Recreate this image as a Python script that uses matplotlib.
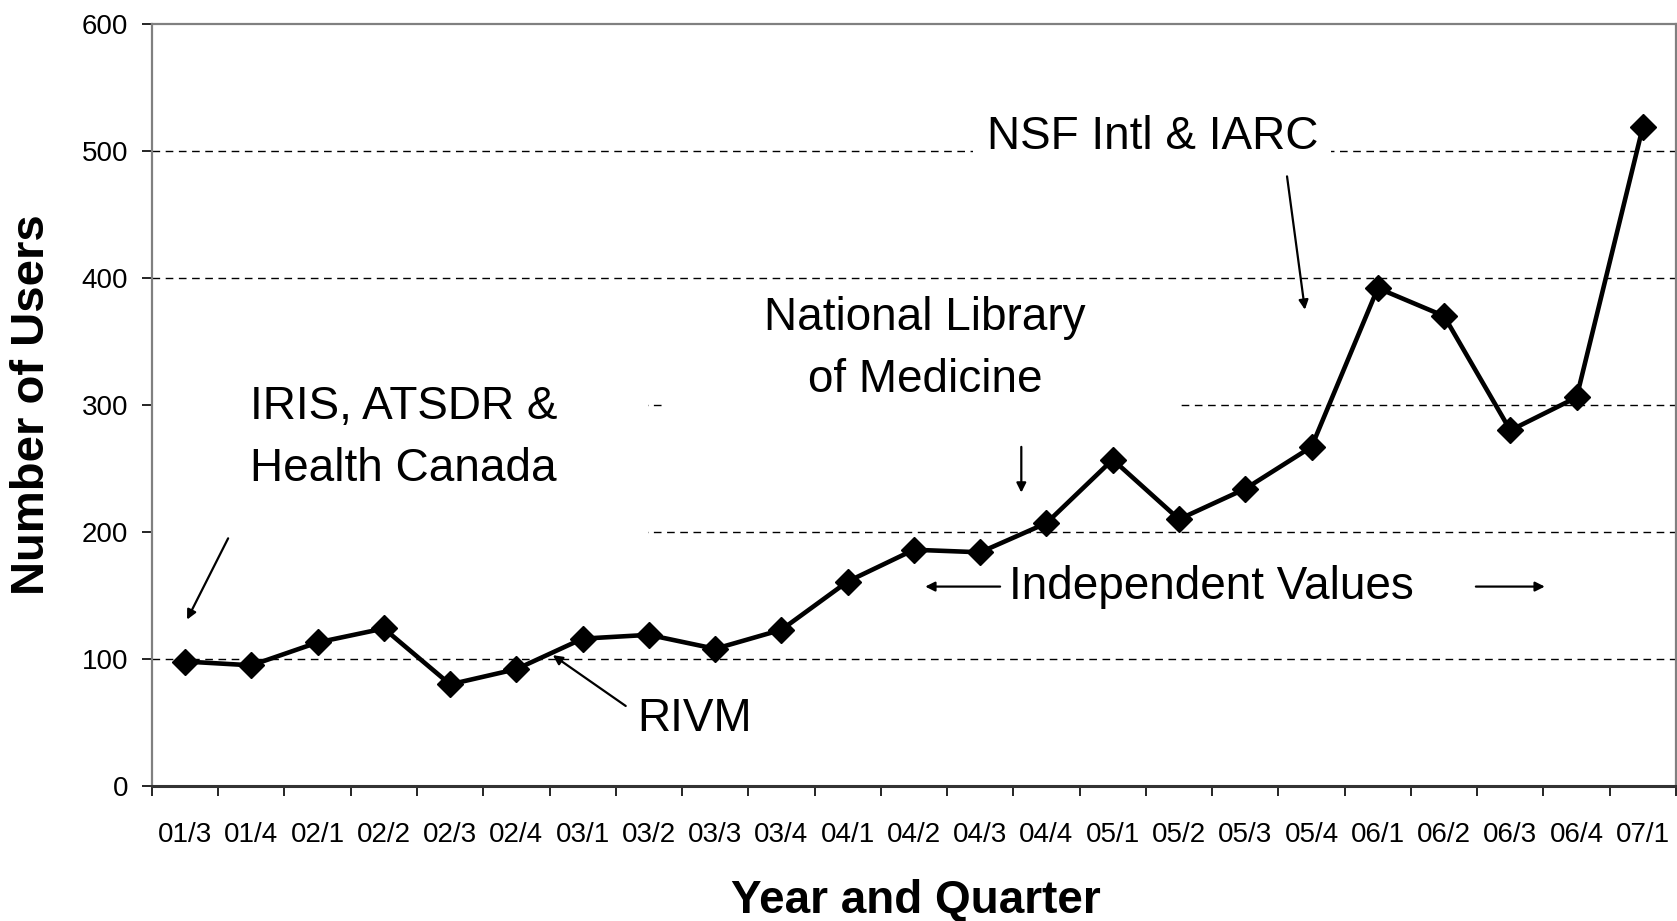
import numpy as np
import matplotlib.pyplot as plt
from matplotlib.patches import Rectangle

plt.rcParams['font.family'] = ['Liberation Sans', 'DejaVu Sans']

#quarters and user counts
quarters = ['01/3', '01/4', '02/1', '02/2', '02/3', '02/4', '03/1', '03/2',
            '03/3', '03/4', '04/1', '04/2', '04/3', '04/4', '05/1', '05/2',
            '05/3', '05/4', '06/1', '06/2', '06/3', '06/4', '07/1']
users = [98, 95, 113, 124, 80, 92, 116, 119, 108, 123, 161, 186,
         184, 207, 257, 210, 234, 267, 392, 370, 280, 306, 519]
yticks = [0, 100, 200, 300, 400, 500, 600]

fig = plt.figure(figsize=(16.77, 9.21), dpi=100)
ax = fig.add_axes([0.0906, 0.1466, 0.9088, 0.8274])
x = np.arange(len(quarters))

#dashed gridlines under everything
ax.set_axisbelow(True)
for yv in yticks[1:-1]:
    ax.axhline(yv, color='black', lw=1.0, ls=(0, (5.5, 4)), zorder=0.5)

#white label boxes that hide the gridlines behind the notes
for (x0, x1, y0, y1) in [(-0.5, 6.99, 197, 360), (7.24, 15.03, 222, 385),
                         (11.89, 17.29, 470, 535)]:
    ax.add_patch(Rectangle((x0, y0), x1 - x0, y1 - y0, facecolor='white',
                           edgecolor='none', zorder=1.5))

ax.plot(x, users, color='black', lw=3.3, marker='D', markersize=13.5, zorder=4)

ax.set_xlim(-0.5, len(quarters) - 0.5)
ax.set_ylim(0, 600)
ax.set_yticks(yticks)
ax.set_xticks(x)
ax.set_xticklabels(quarters)
ax.set_xticks(np.arange(len(quarters) + 1) - 0.5, minor=True)
ax.tick_params(axis='x', which='major', length=0, pad=26, labelsize=20)
ax.tick_params(axis='x', which='minor', length=7, width=1.2, direction='out')
ax.tick_params(axis='y', length=7, width=1.2, pad=10, labelsize=20)

for side in ['left', 'top', 'right']:
    ax.spines[side].set_color('#808080')
    ax.spines[side].set_linewidth(1.6)
ax.spines['bottom'].set_color('#333333')
ax.spines['bottom'].set_linewidth(2.2)

ax.set_ylabel('Number of Users', fontsize=34, fontweight='bold', va='center', ha='center')
ax.yaxis.set_label_coords(-0.079, 0.5)
ax.set_xlabel('Year and Quarter', fontsize=33, fontweight='bold', va='center', ha='center')
ax.xaxis.set_label_coords(0.501, -0.151)

#annotations
note = dict(fontsize=33, ha='center', va='center', zorder=3, linespacing=1.55)
ax.text(3.30, 274, 'IRIS, ATSDR &\nHealth Canada', **note)
ax.text(11.17, 344, 'National Library\nof Medicine', **note)
ax.text(14.6, 511, 'NSF Intl & IARC', **note)
ax.text(15.49, 157, 'Independent Values', **note)
ax.text(7.69, 53, 'RIVM', **note)

arrow = dict(arrowstyle='-|>', color='black', lw=1.6, mutation_scale=14,
             shrinkA=0, shrinkB=0)
ax.annotate('', xy=(0.03, 131), xytext=(0.65, 195), arrowprops=arrow, zorder=5)
ax.annotate('', xy=(5.55, 103), xytext=(6.65, 63), arrowprops=arrow, zorder=5)
ax.annotate('', xy=(12.62, 231), xytext=(12.62, 267), arrowprops=arrow, zorder=5)
ax.annotate('', xy=(16.9, 375), xytext=(16.63, 480), arrowprops=arrow, zorder=5)
ax.annotate('', xy=(11.17, 157), xytext=(12.30, 157), arrowprops=arrow, zorder=5)
ax.annotate('', xy=(20.52, 157), xytext=(19.48, 157), arrowprops=arrow, zorder=5)

fig.savefig('out.png', dpi=100)
